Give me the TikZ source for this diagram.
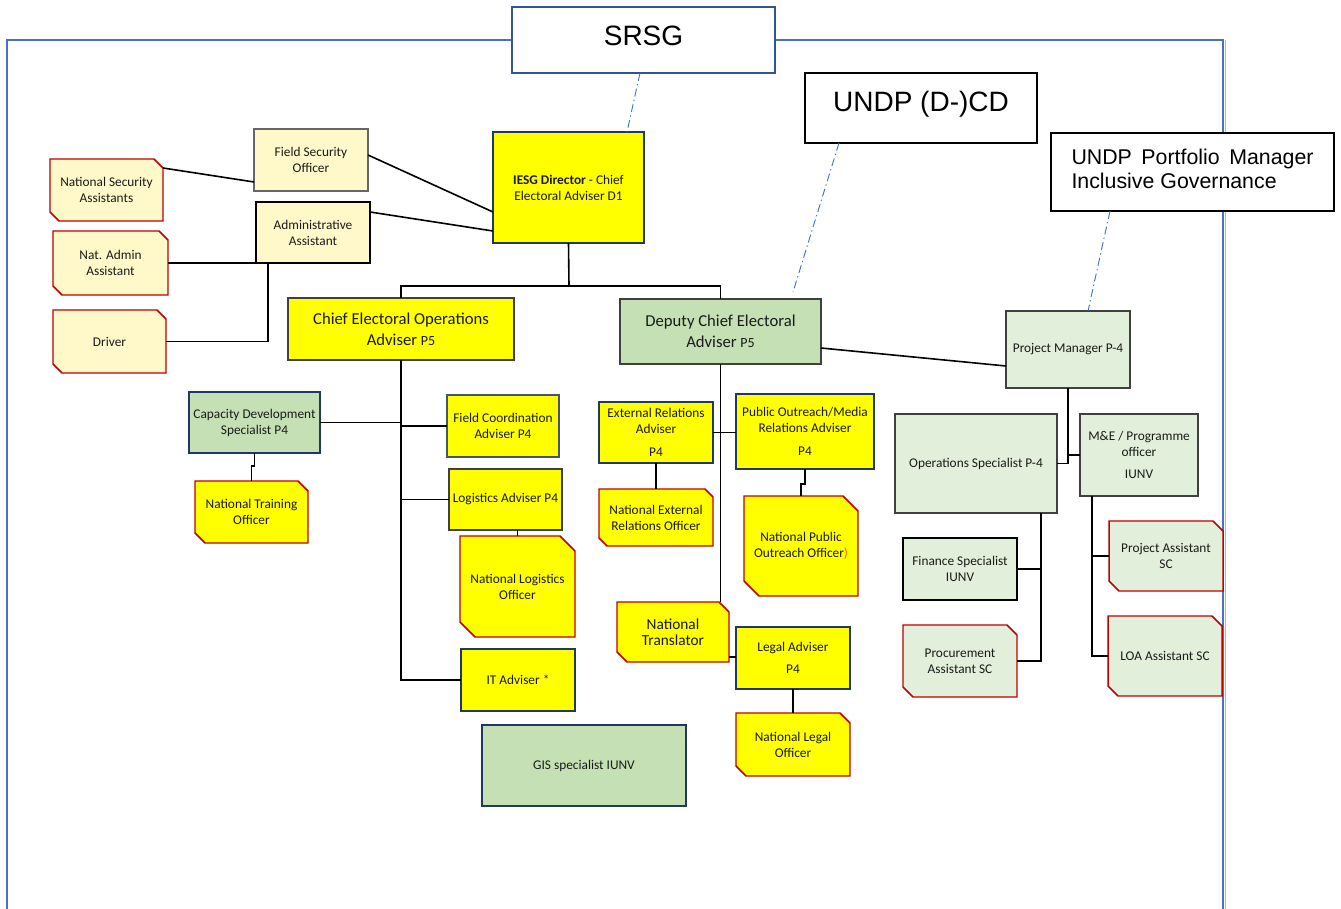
\documentclass[tikz,border=0pt]{standalone}
\usepackage{fontspec}
\usetikzlibrary{calc}
\newfontfamily\cf{Carlito}
\newfontfamily\af{Liberation Sans}
\definecolor{yel}{HTML}{FFFF00}
\definecolor{lyel}{HTML}{FFF8C8}
\definecolor{grn}{HTML}{C5E0B4}
\definecolor{lgrn}{HTML}{E2EFDA}
\definecolor{navy}{HTML}{1F3864}
\definecolor{dgray}{HTML}{404040}
\definecolor{snipred}{HTML}{C00000}
\definecolor{frameblue}{HTML}{4472C4}
\definecolor{srsgblue}{HTML}{2F5597}
\definecolor{txt}{HTML}{1A1A1A}
\definecolor{paren}{HTML}{FF5A00}
\tikzset{
  base/.style={rectangle, draw, line width=1pt, outer sep=0pt, inner sep=1pt, align=center,
    text=txt, font=\cf\fontsize{10}{12}\selectfont},
  ybox/.style={base, fill=yel, draw=navy},
  ylbox/.style={base, fill=lyel, draw=dgray},
  gbox/.style={base, fill=grn, draw=navy},
  lgbox/.style={base, fill=lgrn, draw=dgray},
  bigfont/.style={font=\cf\fontsize{12.5}{16}\selectfont},
  textonly/.style={base, draw=none, fill=none},
  snipline/.style={draw=snipred, line width=1.1pt, line join=miter},
  conn/.style={draw=black, line width=1.2pt},
  dd/.style={draw=frameblue, line width=0.7pt, dash pattern=on 6pt off 2.5pt on 1pt off 2.5pt},
  topbox/.style={rectangle, draw=black, line width=1pt, fill=white, outer sep=0pt, inner sep=1pt,
    font=\af\fontsize{21}{24}\selectfont},
}
% #1 name, #2 x1, #3 y1, #4 x2, #5 y2, #6 style ; the node text follows the macro
\newcommand\bx[6]{%
  \pgfmathsetmacro\bw{(#4-#2)*0.75}%
  \pgfmathsetmacro\bh{(#5-#3)*0.75}%
  \node[#6, minimum width=\bw pt, minimum height=\bh pt] (#1) at ({(#2+#4)/2},{(#3+#5)/2})}
% snipped-corner box: #1 name, #2 x1, #3 y1, #4 x2, #5 y2, #6 fill, #7 corner, #8 text
\newcommand\snipbox[8]{%
  \draw[snipline, fill=#6] (#2,#3) -- ({#4-#7},#3) -- (#4,{#3+#7}) -- (#4,#5) -- ({#2+#7},#5) -- (#2,{#5-#7}) -- cycle;
  \bx{#1}{#2}{#3}{#4}{#5}{textonly}{#8};}
\begin{document}
\begin{tikzpicture}[x=0.75pt,y=-0.75pt]
\useasboundingbox (0,0) rectangle (1341,909);
% outer frame
\draw[draw=frameblue, line width=1.6pt] (7,909) -- (7,40) -- (1223,40) -- (1223,909);
\draw[draw=yel!80!black, line width=0.6pt] (1225,40) -- (1225,909);

% top boxes
\bx{srsg}{512}{7}{775}{73}{topbox, draw=srsgblue, line width=2pt, text depth=6pt}{SRSG};
\bx{undp}{805}{73}{1037}{143}{topbox, text depth=10pt}{UNDP (D-)CD};
\bx{pfm}{1051}{133}{1334}{211}{topbox, font=\af\fontsize{16}{18}\selectfont, text height=12pt, text depth=23.2pt}{\parbox[t]{242\dimexpr0.75pt\relax}{UNDP\hfill Portfolio\hfill Manager\\Inclusive Governance}};

% director and support
\bx{iesg}{493}{132}{644}{243}{ybox}{\textbf{IESG Director} - Chief\\Electoral Adviser D1};
\bx{fso}{254}{129}{368}{191}{ylbox, draw=gray!80!black}{Field Security\\Officer};
\bx{aa}{256}{202}{370}{263}{ylbox, draw=black, line width=1.5pt}{Administrative\\Assistant};
\snipbox{nsa}{50}{159}{163}{221}{lyel}{9}{National Security\\Assistants}
\snipbox{naa}{53}{231}{168}{295}{lyel}{9}{Nat. Admin\\Assistant}
\snipbox{drv}{53}{310}{166}{373}{lyel}{9}{Driver}

% second level
\bx{ceo}{288}{298}{514}{360}{ybox, draw=dgray, bigfont}{Chief Electoral Operations\\Adviser {\fontsize{10.5}{12}\selectfont P5}};
\bx{dce}{620}{299}{821}{364}{gbox, draw=dgray, bigfont}{Deputy Chief Electoral\\Adviser {\fontsize{10.5}{12}\selectfont P5}};

% operations branch
\bx{cds}{189}{392}{320}{453}{gbox}{Capacity Development\\Specialist P4};
\snipbox{nto}{195}{481}{308}{543}{yel}{10}{National Training\\Officer}
\bx{fca}{447}{395}{559}{457}{ybox, draw=navy!60!gray}{Field Coordination\\Adviser P4};
\bx{la}{449}{469}{562}{530}{ybox, draw=dgray}{Logistics Adviser P4};
\snipbox{nlo}{460}{536}{575}{637}{yel}{15}{National Logistics\\Officer}
\bx{it}{461}{649}{575}{711}{ybox}{IT Adviser *};
\bx{gis}{482}{725}{686}{806}{gbox}{GIS specialist IUNV};

% deputy branch
\bx{era}{599}{402}{713}{463}{ybox}{External Relations\\Adviser\\[5pt]P4};
\bx{poa}{736}{394}{874}{469}{ybox}{Public Outreach/Media\\Relations Adviser\\[5pt]P4};
\snipbox{nero}{599}{489}{713}{546}{yel}{8}{National External\\Relations Officer}
\snipbox{npoo}{744}{496}{858}{596}{yel}{15}{National Public\\Outreach Officer{\color{paren})}}
\snipbox{nt}{617}{602}{729}{662}{yel}{10}{{\fontsize{11.5}{14.5}\selectfont National}\\{\fontsize{11.5}{14.5}\selectfont Translator}}
\bx{lga}{736}{627}{850}{689}{ybox}{Legal Adviser\\[5pt]P4};
\snipbox{nlgo}{736}{713}{850}{776}{yel}{10}{National Legal\\Officer}

% UNDP project branch
\bx{pm}{1006}{311}{1130}{388}{lgbox}{Project Manager P-4};
\bx{ops}{895}{414}{1057}{513}{lgbox}{Operations Specialist P-4};
\bx{me}{1080}{414}{1198}{496}{lgbox}{M\&E / Programme\\officer\\[5pt]IUNV};
\bx{fin}{903}{538}{1017}{600}{lgbox, draw=black, line width=1.5pt}{Finance Specialist\\IUNV};
\snipbox{pro}{903}{625}{1017}{697}{lgrn}{10}{Procurement\\Assistant SC}
\snipbox{pas}{1109}{521}{1223}{591}{lgrn}{10}{Project Assistant\\SC}
\snipbox{loa}{1108}{616}{1222}{696}{lgrn}{10}{LOA Assistant SC}

% dash-dot reporting lines
\coordinate (dd2) at (793,292);
\draw[dd] (srsg.south -| 640,0) -- (iesg.north -| 627,0);
\draw[dd] (undp.south -| 839,0) -- (dd2);
\draw[dd] (pfm.south -| 1110,0) -- (pm.north -| 1088,0);

% connectors: director
\draw[conn] (fso.east |- 0,155) -- (iesg.west |- 0,212);
\draw[conn] (aa.east |- 0,212) -- (iesg.west |- 0,231);
\draw[conn] (nsa.east |- 0,168) -- (fso.west |- 0,182);
\draw[conn] (naa.east |- 0,263) -- (aa.south west);
\draw[conn] (aa.south -| 268,0) |- (drv.east);
\coordinate (j1) at (569,286);
\draw[conn] (iesg.south) -- (j1);
\draw[conn] (ceo.north) |- (j1) -| (dce.north);

% connectors: operations
\draw[conn] (ceo.south) |- (it.west);
\draw[conn] (cds.east) -- (cds.east -| ceo.south);
\draw[conn] (fca.west) -- (fca.west -| ceo.south);
\draw[conn] (la.west) -- (la.west -| ceo.south);
\draw[conn] (nlo.north |- la.south) -- (nlo.north);
\draw[conn] (cds.south) -- (cds.south |- 0,466) -| (nto.north);

% connectors: deputy
\draw[conn] (dce.south) -- (dce.south |- nt.north);
\draw[conn] (era.east) -- (era.east -| poa.west);
\draw[conn] (era.south) -- (nero.north);
\draw[conn] (poa.south) -- (poa.south |- 0,484) -| (npoo.north);
\draw[conn] (nt.east |- 0,657) -- (lga.west |- 0,657);
\draw[conn] (lga.south) -- (nlgo.north);
\draw[conn] (dce.east |- 0,348) -- (pm.west |- 0,366);

% connectors: UNDP project
\draw[conn] (ops.east) -| (pm.south);
\draw[conn] (me.west) -- (me.west -| pm.south);
\coordinate (ov) at (1041,513);
\draw[conn] (ov) |- (pro.east);
\draw[conn] (fin.east) -- (fin.east -| ov);
\coordinate (mv) at (1092,496);
\draw[conn] (mv) |- (loa.west);
\draw[conn] (pas.west) -- (pas.west -| mv);
\end{tikzpicture}
\end{document}
